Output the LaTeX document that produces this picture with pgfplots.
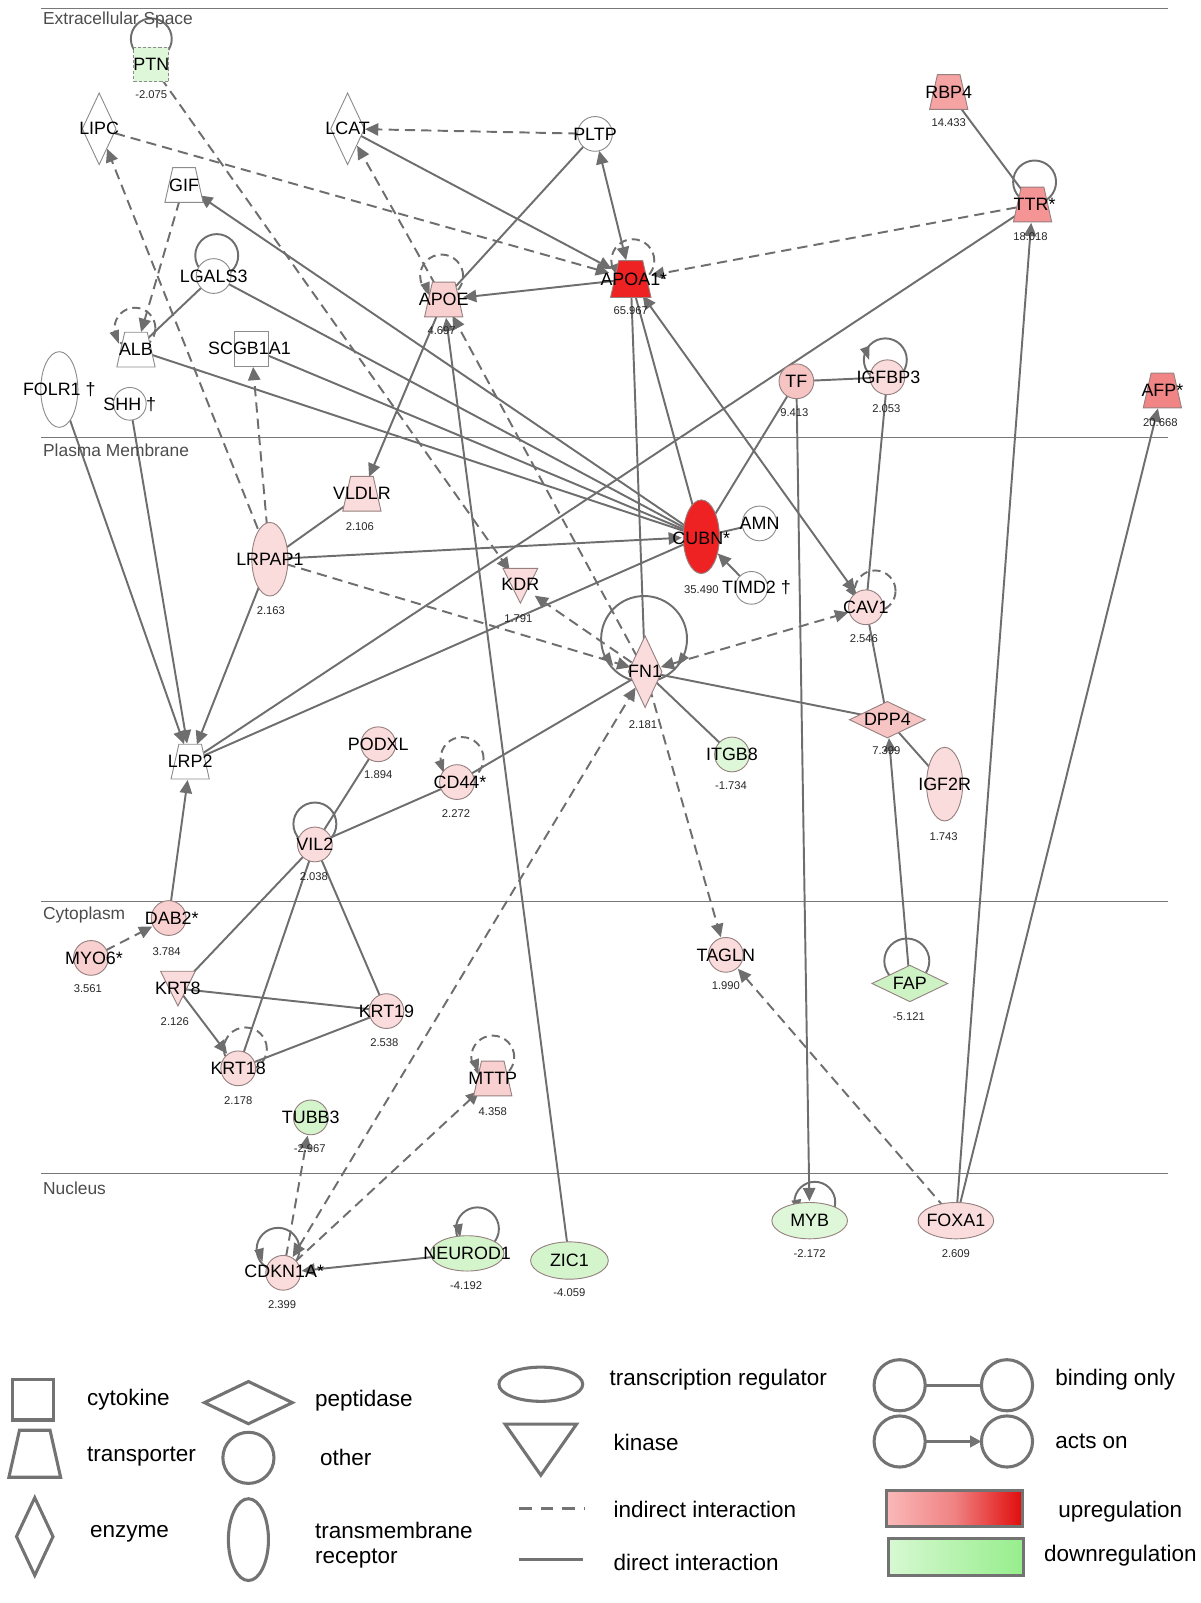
\documentclass[border=0pt]{standalone}
\usepackage{fontspec}
\setmainfont{Liberation Sans}
\usepackage{pgfplots}
\pgfplotsset{compat=1.18}
\usetikzlibrary{arrows.meta}

\definecolor{eg}{RGB}{110,110,110}
\definecolor{nb}{RGB}{150,128,128}
\definecolor{wb}{RGB}{140,140,140}
\definecolor{lg}{RGB}{115,115,115}
\definecolor{sep}{RGB}{120,120,120}
\definecolor{p1}{RGB}{250,220,220}
\definecolor{p2}{RGB}{249,208,208}
\definecolor{p3}{RGB}{247,196,196}
\definecolor{p4}{RGB}{245,163,163}
\definecolor{p5}{RGB}{244,148,148}
\definecolor{p6}{RGB}{241,133,133}
\definecolor{rd}{RGB}{238,34,34}
\definecolor{g1}{RGB}{222,247,216}
\definecolor{g2}{RGB}{212,245,204}
\definecolor{g3}{RGB}{205,243,196}

\pgfdeclareplotmark{trap}{%
 \pgfpathmoveto{\pgfqpoint{-0.65\pgfplotmarksize}{\pgfplotmarksize}}%
 \pgfpathlineto{\pgfqpoint{0.65\pgfplotmarksize}{\pgfplotmarksize}}%
 \pgfpathlineto{\pgfqpoint{1.1\pgfplotmarksize}{-\pgfplotmarksize}}%
 \pgfpathlineto{\pgfqpoint{-1.1\pgfplotmarksize}{-\pgfplotmarksize}}%
 \pgfpathclose\pgfusepathqfillstroke}
\pgfdeclareplotmark{tdiam}{%
 \pgfpathmoveto{\pgfqpoint{0pt}{\pgfplotmarksize}}%
 \pgfpathlineto{\pgfqpoint{0.47\pgfplotmarksize}{0pt}}%
 \pgfpathlineto{\pgfqpoint{0pt}{-\pgfplotmarksize}}%
 \pgfpathlineto{\pgfqpoint{-0.47\pgfplotmarksize}{0pt}}%
 \pgfpathclose\pgfusepathqfillstroke}
\pgfdeclareplotmark{wdiam}{%
 \pgfpathmoveto{\pgfqpoint{\pgfplotmarksize}{0pt}}%
 \pgfpathlineto{\pgfqpoint{0pt}{0.48\pgfplotmarksize}}%
 \pgfpathlineto{\pgfqpoint{-\pgfplotmarksize}{0pt}}%
 \pgfpathlineto{\pgfqpoint{0pt}{-0.48\pgfplotmarksize}}%
 \pgfpathclose\pgfusepathqfillstroke}
\pgfdeclareplotmark{ktri}{%
 \pgfpathmoveto{\pgfqpoint{-\pgfplotmarksize}{\pgfplotmarksize}}%
 \pgfpathlineto{\pgfqpoint{\pgfplotmarksize}{\pgfplotmarksize}}%
 \pgfpathlineto{\pgfqpoint{0pt}{-\pgfplotmarksize}}%
 \pgfpathclose\pgfusepathqfillstroke}
\pgfdeclareplotmark{vell}{\pgfpathellipse{\pgfpointorigin}{\pgfqpoint{0.49\pgfplotmarksize}{0pt}}{\pgfqpoint{0pt}{\pgfplotmarksize}}\pgfusepathqfillstroke}
\pgfdeclareplotmark{hell}{\pgfpathellipse{\pgfpointorigin}{\pgfqpoint{\pgfplotmarksize}{0pt}}{\pgfqpoint{0pt}{0.48\pgfplotmarksize}}\pgfusepathqfillstroke}
% small filled arrowhead pointing down (for self-loops)
\pgfdeclareplotmark{ahd}{%
 \pgfpathmoveto{\pgfqpoint{-0.75\pgfplotmarksize}{\pgfplotmarksize}}%
 \pgfpathlineto{\pgfqpoint{0.75\pgfplotmarksize}{\pgfplotmarksize}}%
 \pgfpathlineto{\pgfqpoint{0pt}{-\pgfplotmarksize}}%
 \pgfpathclose\pgfusepathqfill}

\tikzset{
 ed/.style={draw=eg, line width=1.9pt},
 il/.style={ed, dash pattern=on 10pt off 6pt},
 ar/.style={-{Triangle[length=13pt,width=12pt]}, shorten >=#1},
 ar/.default=18pt,
 ba/.style 2 args={{Triangle[length=13pt,width=12pt]}-{Triangle[length=13pt,width=12pt]}, shorten <=#1, shorten >=#2},
 lbl/.style={font=\fontsize{17.5}{18}\selectfont, inner sep=0pt, text=black},
 vl/.style={font=\fontsize{11}{12}\selectfont, inner sep=0pt, text=black!85},
 sec/.style={font=\fontsize{17}{18}\selectfont, inner sep=0pt, anchor=west, text=black!70},
 lt/.style={font=\fontsize{22}{26}\selectfont, inner sep=0pt, anchor=west, text=black},
}
\pgfplotsset{net/.style={scale only axis, width=1174pt, height=1568pt,
  xmin=0, xmax=1174, ymin=0, ymax=1568, y dir=reverse,
  hide axis, clip=false}}
\newcommand{\nd}[5]{\addplot[only marks, mark=#3, mark size=#4pt, mark options={fill=#5, draw=nb, line width=0.9pt, solid}] coordinates {(#1,#2)};}
\newcommand{\ndw}[4]{\addplot[only marks, mark=#3, mark size=#4pt, mark options={fill=white, draw=wb, line width=0.9pt, solid}] coordinates {(#1,#2)};}
\newcommand{\lp}[3]{\addplot[only marks, mark=o, mark size=#3pt, mark options={draw=eg, line width=1.9pt, solid}] coordinates {(#1,#2)};}
\newcommand{\lpd}[3]{\addplot[only marks, mark=o, mark size=#3pt, mark options={draw=eg, line width=1.9pt, dash pattern=on 8pt off 5pt}] coordinates {(#1,#2)};}
\newcommand{\ah}[3]{\addplot[only marks, mark=ahd, mark size=6.5pt, mark options={fill=eg, draw=none, rotate=#3}] coordinates {(#1,#2)};}
\newcommand{\lab}[3]{\node[lbl] at (axis cs:#1,#2) {#3};}
\newcommand{\val}[3]{\node[vl] at (axis cs:#1,#2) {#3};}
\newcommand{\lgs}[5]{\addplot[only marks, mark=#3, mark size=#4pt, mark options={fill=white, draw=lg, line width=3pt, solid, #5}] coordinates {(#1,#2)};}

\begin{document}
\begin{tikzpicture}
\begin{axis}[net]
\addplot[draw=none] coordinates {(0,0) (1174,1568)};

% compartment separators
\addplot[draw=sep, line width=1.3pt] coordinates {(40,8) (1142,8)};
\addplot[draw=sep, line width=1.3pt] coordinates {(40,428) (1142,428)};
\addplot[draw=sep, line width=1.3pt] coordinates {(40,882) (1142,882)};
\addplot[draw=sep, line width=1.3pt] coordinates {(40,1148) (1142,1148)};

% ---------- edges ----------
\addplot[il, ar=18pt] coordinates {(148,63) (509,573)};
\addplot[il, ar=22pt] coordinates {(97,126) (617,273)};
\addplot[il, ar=21pt] coordinates {(264,547) (97,126)};
\addplot[il, ar=18pt] coordinates {(264,547) (246,341)};
\addplot[il, ar=18pt] coordinates {(180,181) (133,342)};
\addplot[ed] coordinates {(209,270) (133,342)};
\addplot[ed] coordinates {(209,270) (686,525)};
\addplot[ed, ar=18pt] coordinates {(686,525) (180,181)};
\addplot[ed] coordinates {(133,342) (686,525)};
\addplot[ed] coordinates {(246,341) (686,525)};
\addplot[ed, ar=21pt] coordinates {(340,126) (617,273)};
\addplot[il, ar=17pt] coordinates {(582,131) (340,126)};
\addplot[ed, ba={17pt}{19pt}] coordinates {(582,131) (617,273)};
\addplot[ed] coordinates {(582,131) (434,293)};
\addplot[il, ar=19pt] coordinates {(434,293) (340,126)};
\addplot[ed, ar=19pt] coordinates {(617,273) (434,293)};
\addplot[ed, ar=18pt] coordinates {(434,293) (354,483)};
\addplot[ed, ar=18pt] coordinates {(557,1233) (434,293)};
\addplot[il, ar=18pt] coordinates {(631,657) (434,293)};
\addplot[il, ar=20pt] coordinates {(1010,200) (617,273)};
\addplot[ed] coordinates {(928,90) (1010,200)};
\addplot[ed] coordinates {(1010,200) (186,745)};
\addplot[ed, ar=18pt] coordinates {(58,381) (186,745)};
\addplot[ed, ar=18pt] coordinates {(127,395) (186,745)};
\addplot[ed, ar=18pt] coordinates {(264,547) (186,745)};
\addplot[ed] coordinates {(686,525) (186,745)};
\addplot[ed, ar=18pt] coordinates {(165,898) (186,745)};
\addplot[ed, ar=19pt] coordinates {(264,547) (686,525)};
\addplot[il, ar=15pt] coordinates {(264,547) (631,657)};
\addplot[ed] coordinates {(354,483) (264,547)};
\addplot[ed] coordinates {(686,525) (617,273)};
\addplot[ed] coordinates {(617,273) (631,657)};
\addplot[ed, ba={20pt}{18pt}] coordinates {(617,273) (847,594)};
\addplot[ed] coordinates {(779,373) (686,525)};
\addplot[ed] coordinates {(779,373) (868,369)};
\addplot[ed, ar=19pt] coordinates {(779,373) (792,1194)};
\addplot[ed] coordinates {(868,369) (847,594)};
\addplot[ed, ar=18pt] coordinates {(935,1194) (1010,200)};
\addplot[ed, ar=18pt] coordinates {(935,1194) (1137,382)};
\addplot[il, ar=18pt] coordinates {(935,1194) (710,934)};
\addplot[ed] coordinates {(743,512) (686,525)};
\addplot[ed, ar=23pt] coordinates {(735,575) (686,525)};
\addplot[il, ar=17pt] coordinates {(631,657) (509,573)};
\addplot[il, ba={16pt}{18pt}] coordinates {(631,657) (847,594)};
\addplot[ed] coordinates {(631,657) (868,704)};
\addplot[ed] coordinates {(631,657) (716,738)};
\addplot[il, ar=18pt] coordinates {(631,657) (710,934)};
\addplot[ed] coordinates {(631,657) (447,765)};
\addplot[il, ba={18pt}{18pt}] coordinates {(277,1245) (631,657)};
\addplot[il, ar=18pt] coordinates {(277,1245) (304,1093)};
\addplot[il, ar=18pt] coordinates {(277,1245) (482,1055)};
\addplot[ed, ar=18pt] coordinates {(457,1226) (277,1245)};
\addplot[ed, ar=18pt] coordinates {(890,962) (868,704)};
\addplot[ed] coordinates {(868,704) (924,767)};
\addplot[ed] coordinates {(868,704) (847,594)};
\addplot[ed] coordinates {(308,826) (370,728)};
\addplot[ed] coordinates {(308,826) (447,765)};
\addplot[ed] coordinates {(308,826) (174,967)};
\addplot[ed] coordinates {(308,826) (233,1045)};
\addplot[ed] coordinates {(308,826) (378,989)};
\addplot[ed] coordinates {(174,967) (378,989)};
\addplot[ed, ar=18pt] coordinates {(174,967) (233,1045)};
\addplot[ed] coordinates {(378,989) (233,1045)};
\addplot[il, ar=18pt] coordinates {(89,937) (165,898)};

% ---------- self loops ----------
\lp{148}{38}{20}
\lp{212}{250}{21}
\lpd{132}{321}{20}
\lpd{432}{270}{21}
\lpd{619}{255}{21}
\lp{1012}{178}{21}
\lp{866}{352}{21}
\lpd{856}{578}{20}
\lp{630}{625}{42}
\lpd{452}{742}{21}
\lp{308}{806}{21}
\lpd{240}{1026}{21}
\lp{887}{940}{22}
\lpd{482}{1034}{21}
\lp{797}{1176}{20}
\lp{467}{1202}{21}
\lp{272}{1222}{21}
% loop arrowheads
\ah{114}{330}{20}
\ah{418}{283}{20}
\ah{603}{265}{20}
\ah{848}{346}{20}
\ah{835}{580}{35}
\ah{596}{646}{35}
\ah{666}{646}{-35}
\ah{432}{750}{20}
\ah{466}{1043}{20}
\ah{780}{1180}{10}
\ah{449}{1204}{10}
\ah{255}{1228}{15}

% ---------- nodes ----------
\addplot[only marks, mark=square*, mark size=17pt, mark options={fill=g1, draw=wb, line width=0.9pt, dash pattern=on 3pt off 2pt}] coordinates {(148,63)};
\ndw{97}{126}{tdiam}{35}
\ndw{340}{126}{tdiam}{35}
\ndw{582}{131}{*}{17}
\ndw{180}{181}{trap}{17}
\ndw{209}{270}{*}{17}
\nd{434}{293}{trap}{17}{p2}
\nd{617}{273}{trap}{18}{rd}
\nd{928}{90}{trap}{17}{p4}
\nd{1010}{200}{trap}{17}{p5}
\ndw{133}{342}{trap}{17}
\ndw{246}{341}{square*}{17}
\ndw{58}{381}{vell}{37}
\ndw{127}{395}{*}{16}
\nd{779}{373}{*}{17}{p3}
\nd{868}{369}{*}{17}{p1}
\nd{1137}{382}{trap}{17}{p6}
\nd{354}{483}{trap}{17}{p1}
\nd{264}{547}{vell}{36}{p1}
\nd{686}{525}{vell}{36}{rd}
\ndw{743}{512}{*}{17}
\ndw{735}{575}{*}{16}
\nd{509}{573}{ktri}{17}{p1}
\nd{847}{594}{*}{17}{p1}
\nd{631}{657}{tdiam}{35}{p1}
\nd{868}{704}{wdiam}{37}{p3}
\nd{716}{738}{*}{17}{g1}
\nd{924}{767}{vell}{36}{p1}
\ndw{186}{745}{trap}{17}
\nd{370}{728}{*}{17}{p1}
\nd{447}{765}{*}{17}{p1}
\nd{308}{826}{*}{17}{p1}
\nd{165}{898}{*}{17}{p2}
\nd{89}{937}{*}{17}{p2}
\nd{174}{967}{ktri}{17}{p1}
\nd{378}{989}{*}{17}{p1}
\nd{233}{1045}{*}{17}{p1}
\nd{710}{934}{*}{17}{p1}
\nd{890}{962}{wdiam}{37}{g3}
\nd{482}{1055}{trap}{17}{p2}
\nd{304}{1093}{*}{17}{g2}
\nd{277}{1245}{*}{17}{p1}
\nd{457}{1226}{hell}{36}{g2}
\nd{557}{1233}{hell}{38}{g2}
\nd{792}{1194}{hell}{37}{g1}
\nd{935}{1194}{hell}{37}{p1}

% ---------- legend graphics ----------
\lgs{32}{1369}{square}{20}{}
\lgs{34}{1422}{trap}{23}{}
\lgs{34}{1503}{tdiam}{38}{}
\lgs{243}{1372}{wdiam}{43}{}
\lgs{243}{1426}{*}{25}{}
\lgs{243}{1506}{vell}{40}{}
\lgs{529}{1354}{hell}{41}{yscale=0.85}
\lgs{529}{1418}{ktri}{25}{xscale=1.4}
\lgs{880}{1355}{*}{25}{}
\lgs{985}{1355}{*}{25}{}
\lgs{880}{1410}{*}{25}{}
\lgs{985}{1410}{*}{25}{}
\addplot[draw=lg, line width=3pt] coordinates {(905,1355) (960,1355)};
\addplot[draw=lg, line width=3pt, -{Triangle[length=11pt,width=11pt]}] coordinates {(905,1410) (960,1410)};
\addplot[draw=lg, line width=3pt, dash pattern=on 12pt off 9pt] coordinates {(508,1476) (572,1476)};
\addplot[draw=lg, line width=3pt] coordinates {(508,1525) (570,1525)};
\draw[draw=lg, line width=3pt, left color={rgb,255:red,250;green,185;blue,185}, right color={rgb,255:red,225;green,12;blue,12}, middle color={rgb,255:red,240;green,130;blue,130}] (axis cs:867,1458) rectangle (axis cs:1000,1493);
\draw[draw=lg, line width=3pt, left color={rgb,255:red,215;green,248;blue,210}, right color={rgb,255:red,150;green,238;blue,140}] (axis cs:869,1505) rectangle (axis cs:1001,1541);
\end{axis}

% ---------- text layer ----------
\begin{axis}[net]
\addplot[draw=none] coordinates {(0,0) (1174,1568)};
\node[sec] at (axis cs:42,20) {Extracellular Space};
\node[sec] at (axis cs:42,440) {Plasma Membrane};
\node[sec] at (axis cs:42,895) {Cytoplasm};
\node[sec] at (axis cs:42,1162) {Nucleus};

\lab{148}{63}{PTN}
\lab{97}{126}{LIPC}
\lab{340}{126}{LCAT}
\lab{582}{131}{PLTP}
\lab{180}{181}{GIF}
\lab{209}{270}{LGALS3}
\lab{434}{293}{APOE}
\lab{620}{273}{APOA1*}
\lab{928}{90}{RBP4}
\lab{1012}{200}{TTR*}
\lab{133}{342}{ALB}
\lab{244}{341}{SCGB1A1}
\lab{58}{381}{FOLR1 †}
\lab{127}{396}{SHH †}
\lab{779}{373}{TF}
\lab{869}{369}{IGFBP3}
\lab{1137}{382}{AFP*}
\lab{354}{483}{VLDLR}
\lab{264}{547}{LRPAP1}
\lab{686}{527}{CUBN*}
\lab{743}{512}{AMN}
\lab{740}{575}{TIMD2 †}
\lab{509}{572}{KDR}
\lab{847}{594}{CAV1}
\lab{631}{657}{FN1}
\lab{868}{704}{DPP4}
\lab{716}{738}{ITGB8}
\lab{924}{767}{IGF2R}
\lab{186}{745}{LRP2}
\lab{370}{728}{PODXL}
\lab{450}{765}{CD44*}
\lab{308}{826}{VIL2}
\lab{168}{898}{DAB2*}
\lab{92}{937}{MYO6*}
\lab{174}{967}{KRT8}
\lab{378}{989}{KRT19}
\lab{233}{1045}{KRT18}
\lab{710}{934}{TAGLN}
\lab{890}{962}{FAP}
\lab{482}{1055}{MTTP}
\lab{304}{1093}{TUBB3}
\lab{278}{1244}{CDKN1A*}
\lab{457}{1226}{NEUROD1}
\lab{557}{1233}{ZIC1}
\lab{792}{1194}{MYB}
\lab{935}{1194}{FOXA1}

\val{148}{93}{-2.075}
\val{432}{323}{4.697}
\val{617}{304}{65.967}
\val{928}{120}{14.433}
\val{1008}{231}{18.018}
\val{777}{404}{9.413}
\val{867}{400}{2.053}
\val{1135}{413}{20.668}
\val{352}{515}{2.106}
\val{265}{597}{2.163}
\val{686}{577}{35.490}
\val{507}{605}{1.791}
\val{845}{625}{2.546}
\val{629}{709}{2.181}
\val{867}{734}{7.399}
\val{715}{768}{-1.734}
\val{923}{818}{1.743}
\val{370}{758}{1.894}
\val{446}{796}{2.272}
\val{307}{857}{2.038}
\val{163}{931}{3.784}
\val{86}{967}{3.561}
\val{171}{999}{2.126}
\val{376}{1020}{2.538}
\val{233}{1077}{2.178}
\val{710}{964}{1.990}
\val{889}{994}{-5.121}
\val{482}{1087}{4.358}
\val{303}{1124}{-2.967}
\val{276}{1276}{2.399}
\val{456}{1258}{-4.192}
\val{557}{1264}{-4.059}
\val{792}{1226}{-2.172}
\val{935}{1226}{2.609}

\node[lt] at (axis cs:85,1369) {cytokine};
\node[lt] at (axis cs:85,1425) {transporter};
\node[lt] at (axis cs:88,1500) {enzyme};
\node[lt] at (axis cs:308,1370) {peptidase};
\node[lt] at (axis cs:313,1426) {other};
\node[lt] at (axis cs:308,1497) {transmembrane};
\node[lt] at (axis cs:308,1525) {receptor};
\node[lt] at (axis cs:596,1350) {transcription regulator};
\node[lt] at (axis cs:600,1411) {kinase};
\node[lt] at (axis cs:600,1476) {indirect interaction};
\node[lt] at (axis cs:600,1528) {direct interaction};
\node[lt] at (axis cs:1032,1350) {binding only};
\node[lt] at (axis cs:1032,1410) {acts on};
\node[lt] at (axis cs:1035,1479) {upregulation};
\node[lt] at (axis cs:1021,1522) {downregulation};
\end{axis}
\end{tikzpicture}
\end{document}
